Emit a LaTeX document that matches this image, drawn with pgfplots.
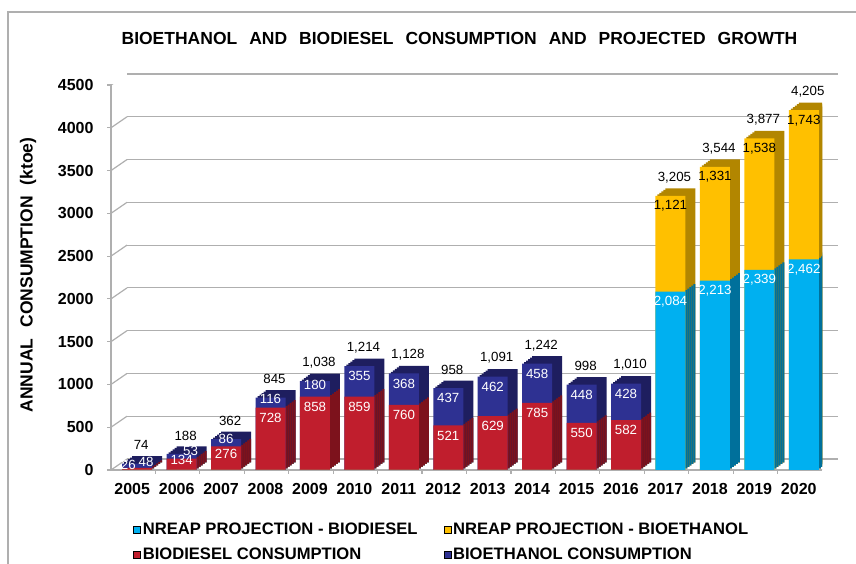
\documentclass[border=0pt]{standalone}
\usepackage{fontspec}
\setmainfont{Liberation Sans}
\usepackage{pgfplots}
\usepackage{pgfplotstable}
\pgfplotsset{compat=1.18}

\definecolor{bdred}{RGB}{192,30,45}
\definecolor{bdredD}{RGB}{125,18,28}
\definecolor{benavy}{RGB}{46,49,146}
\definecolor{benavyD}{RGB}{30,30,95}
\definecolor{ncyan}{RGB}{0,176,240}
\definecolor{ncyanD}{RGB}{0,112,155}
\definecolor{nyel}{RGB}{255,192,0}
\definecolor{nyelD}{RGB}{178,134,0}
\definecolor{gridgray}{RGB}{175,175,175}

\pgfplotstableread{
x bd be nbd nbe total
0 26 48 0 0 74
1 134 53 0 0 188
2 276 86 0 0 362
3 728 116 0 0 845
4 858 180 0 0 1038
5 859 355 0 0 1214
6 760 368 0 0 1128
7 521 437 0 0 958
8 629 462 0 0 1091
9 785 458 0 0 1242
10 550 448 0 0 998
11 582 428 0 0 1010
12 0 0 2084 1121 3205
13 0 0 2213 1331 3544
14 0 0 2339 1538 3877
15 0 0 2462 1743 4205
}\datatable

\newcommand\tickfont{\fontsize{16}{16}\selectfont\bfseries}
\newcommand\lblfont{\fontsize{13.3}{13.3}\selectfont}
\newcommand\legfont{\fontsize{16.6}{17}\selectfont\bfseries}
\newcommand\tsp{\hspace{12pt}}
\newcommand\ysp{\hspace{11pt}}

\pgfplotsset{
  b/.style={ybar, bar width=30pt, bar shift=0pt, draw=none, forget plot},
  lab/.style={forget plot, draw=none, mark=none, nodes near coords, point meta=explicit,
    every node near coord/.append style={anchor=center, font=\lblfont, inner sep=0pt}},
}

\begin{document}
\begin{tikzpicture}
\useasboundingbox (0,0) rectangle (856pt,564pt);
\draw[gridgray, line width=1.2pt] (8pt,-2pt) -- (8pt,552pt) -- (860pt,552pt);
\node[font=\fontsize{17.5}{18}\selectfont\bfseries] at (459.5pt,525.5pt) {BIOETHANOL\tsp AND\tsp BIODIESEL\tsp CONSUMPTION\tsp AND\tsp PROJECTED\tsp GROWTH};
\node[rotate=90, font=\fontsize{17.5}{17.5}\selectfont\bfseries] at (28pt,289pt) {ANNUAL\ysp CONSUMPTION\ysp (ktoe)};
\begin{axis}[
  at={(111pt,94pt)}, anchor=south west,
  width=711pt, height=385pt, scale only axis,
  xmin=-0.59, xmax=15.41, ymin=0, ymax=4500,
  axis lines*=left,
  axis line style={gridgray, line width=1.2pt},
  ytick={0,500,...,4500},
  scaled y ticks=false,
  yticklabel style={font=\tickfont, /pgf/number format/1000 sep={}, xshift=-10pt},
  xtick={0,...,15},
  xticklabels={2005,2006,2007,2008,2009,2010,2011,2012,2013,2014,2015,2016,2017,2018,2019,2020},
  xticklabel style={font=\tickfont, xshift=-5pt, yshift=-6pt},
  major x tick style={draw=none},
  minor xtick={0.41,1.41,...,14.41},
  minor x tick style={gridgray, line width=1.2pt},
  tick align=outside,
  major tick length=4pt, minor tick length=4pt,
  y tick style={gridgray, line width=1.2pt},
  ymajorgrids,
  major grid style={gridgray, line width=1.2pt, xshift=16pt, yshift=11pt},
  /pgf/number format/assume math mode=true,
  /pgf/number format/1000 sep={,},
  legend style={at={(0.027,-0.127)}, anchor=north west, draw=none, fill=none, font=\legfont,
    row sep=8pt, /tikz/every even column/.append style={column sep=24pt}},
  legend columns=2,
  legend cell align=left,
  legend image code/.code={\path[fill] (0pt,-3.5pt) rectangle (7pt,3.5pt);},
]
\pgfplotsinvokeforeach{0,500,...,4500}{
  \draw[gridgray, line width=1.2pt] (axis cs:-0.59,#1) -- ++(16pt,11pt);
}
\draw[gridgray, line width=1.2pt] (axis cs:15.41,0) -- ++(16pt,11pt);

\pgfplotsinvokeforeach{5,4,3,2,1}{
  \addplot[b, fill=benavyD, xshift=#1*2pt, yshift=#1*1.5pt] table[x=x, y expr={(\thisrow{x}<12)*\thisrow{total}}] \datatable;
  \addplot[b, fill=bdredD, xshift=#1*2pt, yshift=#1*1.5pt] table[x=x, y=bd] \datatable;
  \addplot[b, fill=nyelD, xshift=#1*2pt, yshift=#1*1.5pt] table[x=x, y expr={(\thisrow{x}>11)*\thisrow{total}}] \datatable;
  \addplot[b, fill=ncyanD, xshift=#1*2pt, yshift=#1*1.5pt] table[x=x, y=nbd] \datatable;
}
\addplot[b, fill=benavy] table[x=x, y expr={(\thisrow{x}<12)*\thisrow{total}}] \datatable;
\addplot[b, fill=bdred] table[x=x, y=bd] \datatable;
\addplot[b, fill=nyel] table[x=x, y expr={(\thisrow{x}>11)*\thisrow{total}}] \datatable;
\addplot[b, fill=ncyan] table[x=x, y=nbd] \datatable;

% labels
\addplot[lab, restrict x to domain=-1:11.5, every node near coord/.append style={text=white}]
  table[x expr={\thisrow{x}-(\thisrow{x}==0)*0.2}, y expr={max(\thisrow{bd}-117, \thisrow{bd}/2+47)}, meta=bd] \datatable;
\addplot[lab, restrict x to domain=-1:11.5, every node near coord/.append style={text=white}]
  table[x expr={\thisrow{x}+(\thisrow{x}==0)*0.2+(\thisrow{x}==1)*0.2}, y expr={max(\thisrow{total}-117, (\thisrow{bd}+\thisrow{total})/2+47)+(\thisrow{x}==1)*15}, meta=be] \datatable;
\addplot[lab, restrict x to domain=11.5:16, every node near coord/.append style={text=white}]
  table[x=x, y expr={max(\thisrow{nbd}-117, \thisrow{nbd}/2+47)}, meta=nbd] \datatable;
\addplot[lab, restrict x to domain=11.5:16, every node near coord/.append style={text=black}]
  table[x=x, y expr={max(\thisrow{total}-117, (\thisrow{nbd}+\thisrow{total})/2+47)}, meta=nbe] \datatable;
\addplot[lab, every node near coord/.append style={text=black, xshift=4pt}]
  table[x=x, y expr={\thisrow{total}+216}, meta=total] \datatable;

\addlegendimage{fill=ncyan}
\addlegendentry{NREAP PROJECTION - BIODIESEL}
\addlegendimage{fill=nyel}
\addlegendentry{NREAP PROJECTION - BIOETHANOL}
\addlegendimage{fill=bdred}
\addlegendentry{BIODIESEL CONSUMPTION}
\addlegendimage{fill=benavy}
\addlegendentry{BIOETHANOL CONSUMPTION}
\end{axis}
\end{tikzpicture}
\end{document}
